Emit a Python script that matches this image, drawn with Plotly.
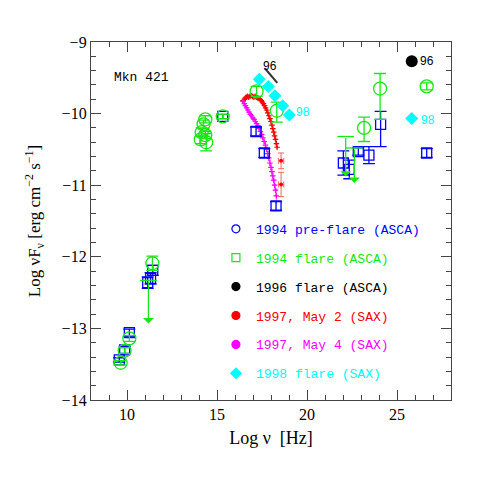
import plotly.graph_objects as go

# 1994 pre-flare (ASCA) - drawn as open squares
pre_x = [9.57, 9.87, 10.13, 11.15, 11.31, 11.43, 15.32, 17.17, 17.63, 18.28, 22.02, 22.35, 22.85, 23.44, 24.09, 26.65]
pre_y = [-13.44, -13.30, -13.06, -12.36, -12.30, -12.19, -10.04, -10.25, -10.55, -11.29, -10.69, -10.78, -10.53, -10.58, -10.15, -10.55]
pre_ep = [0.03, 0.05, 0.05, 0.08, 0.08, 0.07, 0.03, 0.06, 0.06, 0.06, 0.17, 0.13, 0.05, 0.12, 0.18, 0.06]
pre_em = [0.03, 0.05, 0.05, 0.08, 0.08, 0.07, 0.03, 0.06, 0.06, 0.06, 0.17, 0.13, 0.05, 0.12, 0.31, 0.06]

# 1994 flare (ASCA) - drawn as open circles
fl_x = [9.65, 9.87, 10.13, 11.41, 14.35, 14.25, 14.15, 14.35, 14.10, 14.40, 15.32, 17.20, 18.32, 23.17, 24.06, 26.65]
fl_y = [-13.48, -13.31, -13.14, -12.09, -10.08, -10.15, -10.26, -10.30, -10.36, -10.40, -10.04, -9.69, -9.96, -10.20, -9.65, -9.62]
fl_ep = [0.03, 0.04, 0.04, 0.10, 0.05, 0.06, 0.06, 0.05, 0.06, 0.12, 0.03, 0.07, 0.12, 0.15, 0.21, 0.05]
fl_em = [0.03, 0.04, 0.04, 0.10, 0.05, 0.06, 0.06, 0.05, 0.06, 0.12, 0.03, 0.07, 0.16, 0.19, 0.43, 0.05]
# 1994 flare upper limits
ul_x = [11.19, 22.15, 22.63]
ul_y = [-12.33, -10.32, -10.48]
ul_tip = [-12.93, -10.88, -10.97]

# 1996 flare (ASCA)
f96_x = [25.82]
f96_y = [-9.27]
f96_bow_x = [17.67, 18.35]
f96_bow_y = [-9.37, -9.57]

# 1997 May 2 (SAX)
may2_x = [16.45, 16.52, 16.58, 16.63, 16.70, 16.76, 16.83, 16.90, 16.98, 17.05, 17.12, 17.19, 17.26, 17.33, 17.40, 17.46,
          17.52, 17.58, 17.64, 17.70, 17.76, 17.82, 17.88, 17.94, 18.00, 18.05, 18.10, 18.15, 18.20, 18.25, 18.30, 18.34]
may2_y = [-9.82, -9.80, -9.78, -9.77, -9.76, -9.77, -9.76, -9.75, -9.76, -9.77, -9.76, -9.77, -9.78, -9.79, -9.80, -9.82,
          -9.84, -9.86, -9.89, -9.92, -9.95, -9.99, -10.03, -10.07, -10.11, -10.16, -10.21, -10.26, -10.31, -10.36, -10.42, -10.47]
may2_pds_x = [18.56, 18.56]
may2_pds_y = [-10.66, -10.99]
may2_pds_ey = [0.11, 0.17]

# 1997 May 4 (SAX)
may4_x = [16.45, 16.52, 16.58, 16.65, 16.71, 16.78, 16.85, 16.92, 16.99, 17.06, 17.13, 17.20, 17.27, 17.34, 17.41,
          17.48, 17.55, 17.62, 17.69, 17.76, 17.82, 17.88, 17.94, 18.00, 18.05, 18.10, 18.15, 18.20, 18.25, 18.30]
may4_y = [-9.83, -9.86, -9.89, -9.92, -9.95, -9.98, -10.01, -10.03, -10.06, -10.08, -10.11, -10.14, -10.17, -10.21, -10.25,
          -10.29, -10.34, -10.39, -10.44, -10.50, -10.56, -10.62, -10.69, -10.75, -10.81, -10.87, -10.93, -11.00, -11.07, -11.15]
may4_ey = [0.01, 0.01, 0.01, 0.01, 0.01, 0.01, 0.01, 0.01, 0.01, 0.01, 0.01, 0.01, 0.02, 0.02, 0.02,
           0.02, 0.02, 0.02, 0.03, 0.03, 0.03, 0.04, 0.04, 0.05, 0.05, 0.06, 0.06, 0.07, 0.08, 0.10]

# 1998 flare (SAX)
f98_x = [17.35, 17.85, 18.22, 18.65, 19.02, 25.82]
f98_y = [-9.52, -9.62, -9.75, -9.89, -10.02, -10.07]

BLUE = "#0000ff"
GREEN = "#19e619"
RED = "#ff0000"
MAG = "#ff00ff"
CYAN = "#00ffff"

fig = go.Figure()

fig.add_trace(go.Scatter(x=may2_x, y=may2_y, mode="markers", showlegend=False,
                         marker=dict(symbol="cross-thin", size=4, line=dict(color=RED, width=1.2)),
                         error_y=dict(array=[0.01] * len(may2_x), color=RED, thickness=0.8, width=1)))
fig.add_trace(go.Scatter(x=may2_pds_x, y=may2_pds_y, mode="markers", showlegend=False,
                         marker=dict(symbol="circle", size=4, color=RED),
                         error_y=dict(array=may2_pds_ey, color="#ff6060", thickness=1, width=3),
                         error_x=dict(array=[0.15, 0.15], color="#ff6060", thickness=1, width=3)))
fig.add_trace(go.Scatter(x=may4_x, y=may4_y, mode="markers", showlegend=False,
                         marker=dict(symbol="cross-thin", size=4, line=dict(color=MAG, width=1.2)),
                         error_y=dict(array=may4_ey, color="#ff66ff", thickness=0.8, width=1)))

fig.add_trace(go.Scatter(x=pre_x, y=pre_y, mode="markers", showlegend=False,
                         marker=dict(symbol="square-open", size=10, color=BLUE, line=dict(width=1.3)),
                         error_y=dict(type="data", symmetric=False, array=pre_ep, arrayminus=pre_em,
                                      color=BLUE, thickness=1.3, width=6)))
fig.add_trace(go.Scatter(x=fl_x, y=fl_y, mode="markers", showlegend=False,
                         marker=dict(symbol="circle-open", size=13, color=GREEN, line=dict(width=1.3)),
                         error_y=dict(type="data", symmetric=False, array=fl_ep, arrayminus=fl_em,
                                      color=GREEN, thickness=1.3, width=6)))
fig.add_trace(go.Scatter(x=ul_x, y=ul_y, mode="markers", showlegend=False,
                         marker=dict(symbol="line-ew", size=12, line=dict(color=GREEN, width=1.3))))
for x, y0, y1 in zip(ul_x, ul_y, ul_tip):
    fig.add_annotation(x=x, y=y1, ax=x, ay=y0, xref="x", yref="y", axref="x", ayref="y",
                       showarrow=True, arrowhead=1, arrowsize=1.4, arrowwidth=1.3, arrowcolor=GREEN, text="")

fig.add_trace(go.Scatter(x=f96_bow_x, y=f96_bow_y, mode="lines", showlegend=False,
                         line=dict(color="#333333", width=2)))
fig.add_trace(go.Scatter(x=f96_x, y=f96_y, mode="markers", showlegend=False,
                         marker=dict(symbol="circle", size=12, color="black")))
fig.add_trace(go.Scatter(x=f98_x, y=f98_y, mode="markers", showlegend=False,
                         marker=dict(symbol="diamond", size=10, color=CYAN)))

# legend entries
legend_items = [
    ("1994 pre-flare (ASCA)", BLUE, "circle-open"),
    ("1994 flare (ASCA)", GREEN, "square-open"),
    ("1996 flare (ASCA)", "black", "circle"),
    ("1997, May 2 (SAX)", RED, "circle"),
    ("1997, May 4 (SAX)", MAG, "circle"),
    ("1998 flare (SAX)", CYAN, "diamond"),
]
for i, (name, col, sym) in enumerate(legend_items):
    fig.add_trace(go.Scatter(x=[None], y=[None], mode="markers", legendgroup=str(i),
                             name="<span style='color:%s'>%s</span>" % (col, name),
                             marker=dict(symbol=sym, size=8, color=col, line=dict(width=1.2, color=col))))

serif = "Liberation Serif"
fig.add_annotation(x=10.8, y=-9.49, text="Mkn 421", showarrow=False,
                   font=dict(family="Liberation Mono", size=13, color="black"))
fig.add_annotation(x=17.95, y=-9.33, text="96", showarrow=False, font=dict(family="Liberation Sans", size=12, color="black"))
fig.add_annotation(x=26.15, y=-9.26, text="96", showarrow=False, xanchor="left",
                   font=dict(family="Liberation Sans", size=12, color="black"))
fig.add_annotation(x=19.25, y=-9.98, text="98", showarrow=False, xanchor="left",
                   font=dict(family="Liberation Sans", size=12, color=CYAN))
fig.add_annotation(x=26.2, y=-10.09, text="98", showarrow=False, xanchor="left",
                   font=dict(family="Liberation Sans", size=12, color=CYAN))

axis_common = dict(showline=True, linecolor="#444444", linewidth=1.3, mirror="allticks", ticks="inside",
                   ticklen=10, tickwidth=1, tickcolor="#444444", showgrid=False, zeroline=False,
                   tickfont=dict(family=serif, size=16, color="black"))
fig.update_xaxes(range=[8, 28], dtick=5, tick0=0,
                 minor=dict(dtick=1, ticks="inside", ticklen=5, tickcolor="#444444"),
                 title=dict(text="Log ν  [Hz]", font=dict(family=serif, size=18, color="black"), standoff=9),
                 **axis_common)
fig.update_yaxes(range=[-14, -9], dtick=1,
                 minor=dict(dtick=0.2, ticks="inside", ticklen=5, tickcolor="#444444"),
                 title=dict(text="Log νF<sub>ν</sub> [erg cm<sup>−2</sup> s<sup>−1</sup>]",
                            font=dict(family=serif, size=17, color="black"), standoff=16),
                 **axis_common)

fig.update_layout(
    width=491, height=491,
    margin=dict(l=83, r=48, t=34, b=99),
    plot_bgcolor="white", paper_bgcolor="white",
    showlegend=True,
    legend=dict(x=0.347, y=0.52, xanchor="left", yanchor="top", bgcolor="rgba(0,0,0,0)",
                font=dict(family="Liberation Mono", size=13), tracegroupgap=9, itemwidth=30,
                traceorder="grouped"),
)

fig.write_html("out.html")
